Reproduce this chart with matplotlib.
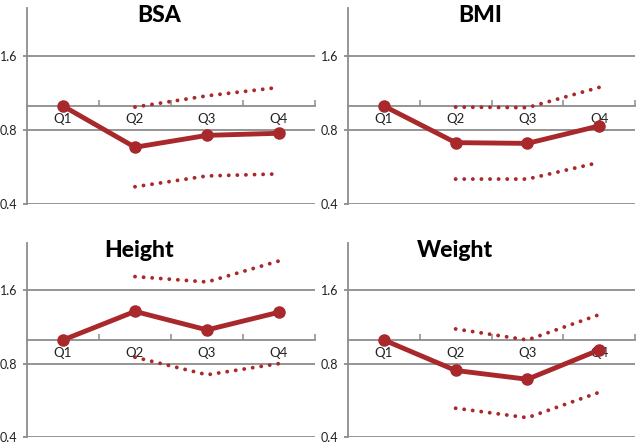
import numpy as np
from matplotlib import pyplot as plt
from matplotlib.ticker import FixedLocator, NullFormatter, FixedFormatter

quarters = ["Q1", "Q2", "Q3", "Q4"]
titles = ["BSA", "BMI", "Height", "Weight"]

# odds ratio per quarter, CI only given for Q2-Q4
bsa = [1.0, 0.68, 0.76, 0.775]
bsa_hi = [0.99, 1.10, 1.19]
bsa_lo = [0.47, 0.52, 0.53]

bmi = [1.0, 0.71, 0.705, 0.83]
bmi_hi = [0.99, 0.985, 1.19]
bmi_lo = [0.505, 0.505, 0.59]

height = [1.0, 1.31, 1.10, 1.30]
height_hi = [1.82, 1.73, 2.11]
height_lo = [0.85, 0.72, 0.80]

weight = [1.0, 0.75, 0.69, 0.91]
weight_hi = [1.11, 1.0, 1.27]
weight_lo = [0.525, 0.48, 0.61]

series = [
    (bsa, bsa_lo, bsa_hi),
    (bmi, bmi_lo, bmi_hi),
    (height, height_lo, height_hi),
    (weight, weight_lo, weight_hi),
]
title_x = [0.46, 0.46, 0.39, 0.373]

RED = "#A8282B"
GRAY = "#8C8C8C"

plt.rcParams["font.family"] = ["Lato", "DejaVu Sans"]

fig = plt.figure(figsize=(6.4, 4.46), dpi=100)
boxes = [
    [27 / 640, 1 - 204 / 446, 288 / 640, 196 / 446],
    [348 / 640, 1 - 204 / 446, 287 / 640, 196 / 446],
    [27 / 640, 1 - 437 / 446, 288 / 640, 194 / 446],
    [348 / 640, 1 - 437 / 446, 287 / 640, 194 / 446],
]

x = np.arange(len(quarters))
for box, title, tx, (est, lo, hi) in zip(boxes, titles, title_x, series):
    ax = fig.add_axes(box)
    ax.set_yscale("log")
    ax.set_ylim(0.4, 2.5)
    ax.set_xlim(-0.5, len(quarters) - 0.5)

    ax.yaxis.set_major_locator(FixedLocator([0.4, 0.8, 1.6]))
    ax.yaxis.set_major_formatter(FixedFormatter(["0.4", "0.8", "1.6"]))
    ax.yaxis.set_minor_locator(FixedLocator([]))
    ax.yaxis.set_minor_formatter(NullFormatter())
    ax.grid(axis="y", color=GRAY, linewidth=1.3)
    ax.tick_params(axis="y", direction="out", length=3, width=1.3,
                   color=GRAY, labelsize=9, pad=4, labelcolor="#222222")

    for side in ["top", "right"]:
        ax.spines[side].set_visible(False)
    ax.spines["left"].set_color(GRAY)
    ax.spines["left"].set_linewidth(1.3)
    ax.spines["bottom"].set_position(("data", 1.0))
    ax.spines["bottom"].set_color(GRAY)
    ax.spines["bottom"].set_linewidth(1.3)

    ax.set_xticks(x)
    ax.set_xticklabels(quarters)
    ax.set_xticks(x + 0.5, minor=True)
    ax.tick_params(axis="x", which="major", length=0, labelsize=9.5,
                   pad=5, labelcolor="#222222")
    ax.tick_params(axis="x", which="minor", direction="in", length=4,
                   width=1.1, color=GRAY)

    ax.plot(x[1:], hi, color=RED, linewidth=2.8,
            linestyle=(0, (0.01, 2.2)), dash_capstyle="round", zorder=3)
    ax.plot(x[1:], lo, color=RED, linewidth=2.8,
            linestyle=(0, (0.01, 2.2)), dash_capstyle="round", zorder=3)
    ax.plot(x, est, color=RED, linewidth=3.5, marker="o", markersize=8,
            zorder=4, clip_on=False)

    ax.text(tx, 0.93, title, transform=ax.transAxes, ha="center",
            va="baseline", fontsize=16.5, fontweight="black")

fig.savefig("out.png", dpi=100)
plt.close(fig)
